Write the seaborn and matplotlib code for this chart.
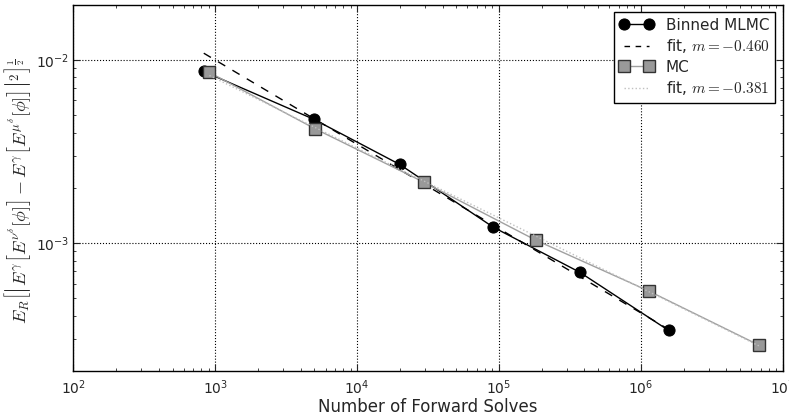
import matplotlib
matplotlib.use("Agg")
import matplotlib.pyplot as plt
from matplotlib.ticker import LogLocator, NullFormatter
import seaborn as sns
import pandas as pd
import numpy as np

sns.set_style("white")
plt.rcParams['font.family'] = ['DejaVu Sans']

# Binned MLMC error vs number of forward solves
mlmc_solves = [830, 4950, 20000, 91000, 371000, 1570000]
mlmc_error = [8.63e-3, 4.73e-3, 2.68e-3, 1.22e-3, 6.92e-4, 3.33e-4]

# Plain MC error vs number of forward solves
mc_solves = [910, 5020, 29400, 182000, 1140000, 6790000]
mc_error = [8.52e-3, 4.21e-3, 2.15e-3, 1.035e-3, 5.46e-4, 2.77e-4]

# fitted power laws  err = c * N^m
mlmc_fit_c, mlmc_fit_m = 0.239, -0.460
mc_fit_c, mc_fit_m = 0.110, -0.381

df_mlmc = pd.DataFrame({"N": mlmc_solves, "err": mlmc_error})
df_mc = pd.DataFrame({"N": mc_solves, "err": mc_error})
fit_mlmc_x = np.array([mlmc_solves[0], mlmc_solves[-1]], dtype=float)
fit_mc_x = np.array([mc_solves[0], mc_solves[-1]], dtype=float)
df_fit_mlmc = pd.DataFrame({"N": fit_mlmc_x, "err": mlmc_fit_c * fit_mlmc_x ** mlmc_fit_m})
df_fit_mc = pd.DataFrame({"N": fit_mc_x, "err": mc_fit_c * fit_mc_x ** mc_fit_m})

fig = plt.figure(figsize=(7.89, 4.15), dpi=100)
ax = fig.add_axes([0.093, 0.106, 0.899, 0.883])
ax.set_xscale("log")
ax.set_yscale("log")

sns.lineplot(data=df_mlmc, x="N", y="err", ax=ax, color="k", lw=1, marker="o",
             markersize=8, markeredgecolor="k", label="Binned MLMC")
sns.lineplot(data=df_fit_mlmc, x="N", y="err", ax=ax, color="k", lw=1,
             dashes=False, label=r"fit, $m=%.3f$" % mlmc_fit_m)
ax.lines[-1].set_dashes((6, 6))
sns.lineplot(data=df_mc, x="N", y="err", ax=ax, color="#a0a0a0", lw=1, marker="s",
             markersize=8, markerfacecolor="#999999", markeredgecolor="#333333",
             markeredgewidth=1, label="MC")
sns.lineplot(data=df_fit_mc, x="N", y="err", ax=ax, color="#c0c0c0", lw=1,
             linestyle=":", label=r"fit, $m=%.3f$" % mc_fit_m)

ax.set_xlim(1e2, 1e7)
ax.set_ylim(2e-4, 2e-2)
ax.xaxis.set_minor_locator(LogLocator(base=10, subs=np.arange(2, 10), numticks=100))
ax.xaxis.set_minor_formatter(NullFormatter())

ax.grid(True, which="major", color="k", linestyle=":", linewidth=0.8)
ax.tick_params(which="both", direction="in", top=True, right=True,
               bottom=True, left=True, labelsize=10)
ax.tick_params(which="major", length=5, width=0.8)
ax.tick_params(which="minor", length=2.5, width=0.6)
ax.tick_params(axis="x", which="major", pad=5)
ax.tick_params(axis="y", which="major", pad=3)
for s in ax.spines.values():
    s.set_color("k")
    s.set_linewidth(1)

ax.set_xlabel("Number of Forward Solves", fontsize=12, labelpad=1)
ax.set_ylabel(r"$E_R\left[\left|E^{\gamma}\left[E^{\nu^\delta}[\phi]\right]-E^{\gamma}\left[E^{\mu^\delta}[\phi]\right]\right|^2\right]^{\frac{1}{2}}$",
              fontsize=13, math_fontfamily="cm")
ax.yaxis.set_label_coords(-0.057, 0.49)

leg = ax.legend(loc="upper right", numpoints=2, fontsize=11, fancybox=False,
                framealpha=1, edgecolor="k", borderaxespad=0.5,
                labelspacing=0.3, handlelength=2.2, handletextpad=0.8, borderpad=0.35)
leg.get_frame().set_linewidth(1)
for t in leg.get_texts():
    t.set_math_fontfamily("cm")
leg.get_lines()[1].set_dashes((4, 4))

fig.savefig("out.png", dpi=100)
